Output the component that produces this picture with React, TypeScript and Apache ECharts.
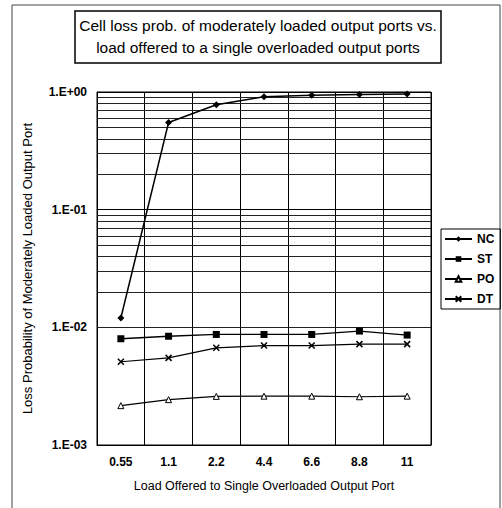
import React, { useEffect, useRef } from "react";
import * as echarts from "echarts";

const categories = ["0.55", "1.1", "2.2", "4.4", "6.6", "8.8", "11"];
const ncValues = [0.012, 0.55, 0.78, 0.91, 0.94, 0.95, 0.96];
const stValues = [0.008, 0.0084, 0.0087, 0.0087, 0.0087, 0.0093, 0.0086];
const poValues = [0.00216, 0.00243, 0.00259, 0.0026, 0.0026, 0.00257, 0.0026];
const dtValues = [0.0051, 0.0055, 0.0067, 0.007, 0.007, 0.0072, 0.0072];
const yTickLabels = ["1.E-03", "1.E-02", "1.E-01", "1.E+00"];
const minorGridValues = [
  0.002, 0.003, 0.004, 0.005, 0.006, 0.007, 0.008, 0.009,
  0.02, 0.03, 0.04, 0.05, 0.06, 0.07, 0.08, 0.09,
  0.2, 0.3, 0.4, 0.5, 0.6, 0.7, 0.8, 0.9,
];
const titleText =
  "Cell loss prob. of moderately loaded output ports vs.\nload offered to a single overloaded output ports";
const xName = "Load Offered to Single Overloaded Output Port";
const yName = "Loss Probability of Moderately Loaded Output Port";

const FONT = "'Liberation Sans', Arial, sans-serif";

export default function App() {
  const ref = useRef<HTMLDivElement>(null);
  useEffect(() => {
    if (!ref.current) return;
    const chart = echarts.init(ref.current, null, { renderer: "svg" });
    const lineBase = {
      type: "line" as const,
      showSymbol: true,
    };
    chart.setOption({
      animation: false,
      backgroundColor: "#fff",
      textStyle: { fontFamily: FONT, color: "#000" },
      title: {
        text: titleText,
        left: 258,
        top: 14,
        textAlign: "center",
        padding: 0,
        textStyle: {
          fontFamily: FONT,
          fontSize: 15.5,
          fontWeight: "normal",
          color: "#000",
          lineHeight: 22,
        },
      },
      graphic: [
        {
          type: "rect",
          shape: { x: 12, y: 5, width: 488, height: 520 },
          style: { fill: "none", stroke: "#444", lineWidth: 1 },
          silent: true,
        },
        {
          type: "rect",
          shape: { x: 75, y: 11, width: 366, height: 52 },
          style: { fill: "none", stroke: "#000", lineWidth: 1.5 },
          silent: true,
        },
      ],
      legend: {
        orient: "vertical",
        left: 441,
        top: 229,
        borderColor: "#000",
        borderWidth: 1,
        padding: [4, 6, 4, 3],
        itemWidth: 27,
        itemHeight: 7,
        itemGap: 8,
        textStyle: { fontFamily: FONT, fontSize: 12, fontWeight: "bold", color: "#000" },
        data: ["NC", "ST", "PO", "DT"],
      },
      grid: {
        left: 97,
        top: 92,
        width: 334,
        height: 353,
        show: true,
        borderColor: "#000",
        borderWidth: 1,
        containLabel: false,
      },
      xAxis: {
        type: "category",
        data: categories,
        boundaryGap: true,
        axisLine: { lineStyle: { color: "#000", width: 1 } },
        axisTick: { show: false },
        axisLabel: { margin: 11, fontFamily: FONT, fontSize: 12, fontWeight: "bold", color: "#000" },
        splitLine: { show: true, interval: 0, lineStyle: { color: "#000", width: 1 } },
        name: xName,
        nameLocation: "middle",
        nameGap: 34,
        nameTextStyle: { fontFamily: FONT, fontSize: 12.5, color: "#000" },
      },
      yAxis: {
        type: "log",
        logBase: 10,
        min: 0.001,
        max: 1,
        axisLine: { show: true, lineStyle: { color: "#000", width: 1 } },
        axisTick: { show: false },
        axisLabel: {
          margin: 10,
          fontFamily: FONT,
          fontSize: 12,
          fontWeight: "bold",
          color: "#000",
          formatter: (v: number) => {
            const e = Math.round(Math.log10(v));
            return yTickLabels[e + 3] ?? "";
          },
        },
        splitLine: { show: true, lineStyle: { color: "#000", width: 1 } },
        name: yName,
        nameLocation: "middle",
        nameGap: 63,
        nameTextStyle: { fontFamily: FONT, fontSize: 13, color: "#000" },
      },
      series: [
        {
          ...lineBase,
          name: "NC",
          data: ncValues,
          symbol: "diamond",
          symbolSize: 7,
          itemStyle: { color: "#000" },
          lineStyle: { color: "#000", width: 1.5 },
          z: 5,
        },
        {
          ...lineBase,
          name: "ST",
          data: stValues,
          symbol: "rect",
          symbolSize: 7,
          itemStyle: { color: "#000" },
          lineStyle: { color: "#000", width: 1.3 },
          z: 5,
        },
        {
          ...lineBase,
          name: "PO",
          data: poValues,
          symbol: "triangle",
          symbolSize: 6,
          itemStyle: { color: "#fff", borderColor: "#000", borderWidth: 1 },
          lineStyle: { color: "#000", width: 1.2 },
          z: 5,
        },
        {
          ...lineBase,
          name: "DT",
          data: dtValues,
          symbol: "path://M0,0L10,10M10,0L0,10",
          symbolSize: 6,
          itemStyle: { color: "none", borderColor: "#000", borderWidth: 1.5 },
          lineStyle: { color: "#000", width: 1.2 },
          z: 5,
        },
        {
          type: "line",
          name: "grid",
          data: categories.map(() => null),
          silent: true,
          symbol: "none",
          z: 1,
          markLine: {
            silent: true,
            symbol: ["none", "none"],
            label: { show: false },
            lineStyle: { color: "#222", width: 1, type: "solid" },
            data: minorGridValues.map((v) => ({ yAxis: v })),
          },
        },
      ],
    });
    return () => chart.dispose();
  }, []);
  return (
    <div
      ref={ref}
      style={{ position: "fixed", left: 0, top: 0, width: 502, height: 508 }}
    />
  );
}
